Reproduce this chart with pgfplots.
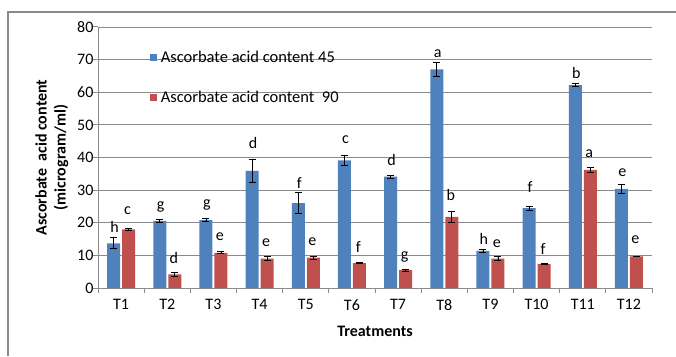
\documentclass[border=0pt]{standalone}
\usepackage{pgfplots}
\pgfplotsset{compat=1.18}
\usepackage{pgfplotstable}
\usepackage{fontspec}
\setmainfont{Carlito}

\definecolor{barblue}{HTML}{4F81BD}
\definecolor{barred}{HTML}{C0504D}
\definecolor{gridgray}{HTML}{8A8A8A}

% Ascorbate acid content, mean and error, per treatment
\pgfplotstableread{
x  y     err
1  13.7  1.7
2  20.6  0.4
3  20.8  0.4
4  35.9  3.5
5  26.0  3.2
6  39.1  1.4
7  34.1  0.4
8  67.0  2.1
9  11.4  0.5
10 24.5  0.6
11 62.2  0.4
12 30.4  1.3
}\daysA

\pgfplotstableread{
x  y     err
1  18.0  0.3
2  4.2   0.5
3  10.8  0.3
4  9.0   0.6
5  9.3   0.5
6  7.6   0.2
7  5.5   0.3
8  21.8  1.7
9  9.0   0.6
10 7.3   0.2
11 36.2  0.8
12 9.7   0.1
}\daysB

\newcommand{\lbl}{\fontsize{16}{19}\selectfont}

\begin{document}
\begin{tikzpicture}
\useasboundingbox (0pt,0pt) rectangle (676pt,356pt);
\draw[gridgray, line width=1.2pt] (8pt,0pt) -- (8pt,344pt) -- (676pt,344pt);
\begin{axis}[
  at={(98pt,68pt)}, anchor=south west,
  width=554pt, height=261pt, scale only axis,
  xmin=0.5, xmax=12.5, ymin=0, ymax=80,
  ytick={0,10,...,80},
  xtick={1,...,12},
  xticklabels={T1,T2,T3,T4,T5,T6,T7,T8,T9,T10,T11,T12},
  minor xtick={0.5,1.5,...,12.5},
  major x tick style={draw=none},
  tick align=outside,
  axis x line*=bottom, axis y line*=left,
  axis line style={gridgray, line width=1pt, -},
  tick style={gridgray, line width=1pt},
  major tick length=5pt, minor tick length=5pt,
  ymajorgrids, grid style={gridgray, line width=0.9pt},
  ybar, bar width=13pt,
  /pgf/number format/assume math mode=true,
  tick label style={font=\lbl},
  xticklabel style={yshift=-3pt},
  yticklabel style={xshift=4pt},
  xlabel={Treatments},
  ylabel={Ascorbate\ \ acid content\\(microgram/ml)},
  label style={font=\lbl\bfseries, align=center},
  xlabel style={yshift=-9pt},
  ylabel style={yshift=2pt},
  legend style={draw=none, fill=none, at={(0.094,0.915)}, anchor=north west,
    font=\fontsize{16.5}{19}\selectfont, row sep=24pt, inner sep=0pt,
    nodes={inner sep=1.5pt}},
  legend cell align=left,
  legend image code/.code={\fill[#1] (0pt,-4pt) rectangle (7pt,3pt);},
]
\addplot[fill=barblue, draw=none,
  error bars/.cd, y dir=both, y explicit,
  error bar style={black, line width=0.8pt},
  error mark options={black, rotate=90, mark size=3.5pt, line width=0.8pt}]
  table[x=x, y=y, y error=err]{\daysA};
\addlegendentry{\hspace{2pt}Ascorbate acid content 45}
\addplot[fill=barred, draw=none,
  error bars/.cd, y dir=both, y explicit,
  error bar style={black, line width=0.8pt},
  error mark options={black, rotate=90, mark size=3.5pt, line width=0.8pt}]
  table[x=x, y=y, y error=err]{\daysB};
\addlegendentry{\hspace{2pt}Ascorbate acid content\ \ 90}

% significance letters
\pgfkeys{/tmp/l/.style={font=\lbl, inner sep=0pt}}
\def\L{-0.1408}\def\R{0.1408}
\node[/tmp/l] at (axis cs:1+\L,18.8) {h};
\node[/tmp/l] at (axis cs:1+\R,23.7) {c};
\node[/tmp/l] at (axis cs:2+\L,24.9) {g};
\node[/tmp/l] at (axis cs:2+\R,9.1) {d};
\node[/tmp/l] at (axis cs:3+\L,25.4) {g};
\node[/tmp/l] at (axis cs:3+\R,15.7) {e};
\node[/tmp/l] at (axis cs:4+\L,44.3) {d};
\node[/tmp/l] at (axis cs:4+\R,13.9) {e};
\node[/tmp/l] at (axis cs:5+\L,32.1) {f};
\node[/tmp/l] at (axis cs:5+\R,14.2) {e};
\node[/tmp/l] at (axis cs:6+\L,45.4) {c};
\node[/tmp/l] at (axis cs:6+\R,12.7) {f};
\node[/tmp/l] at (axis cs:7+\L,39.2) {d};
\node[/tmp/l] at (axis cs:7+\R,9.6) {g};
\node[/tmp/l] at (axis cs:8+\L,71.9) {a};
\node[/tmp/l] at (axis cs:8+\R,28.5) {b};
\node[/tmp/l] at (axis cs:9+\L,14.9) {h};
\node[/tmp/l] at (axis cs:9+\R,13.7) {e};
\node[/tmp/l] at (axis cs:10+\L,31.1) {f};
\node[/tmp/l] at (axis cs:10+\R,11.9) {f};
\node[/tmp/l] at (axis cs:11+\L,66.0) {b};
\node[/tmp/l] at (axis cs:11+\R,41.1) {a};
\node[/tmp/l] at (axis cs:12+\L,35.3) {e};
\node[/tmp/l] at (axis cs:12+\R,14.7) {e};
\end{axis}
\end{tikzpicture}
\end{document}
